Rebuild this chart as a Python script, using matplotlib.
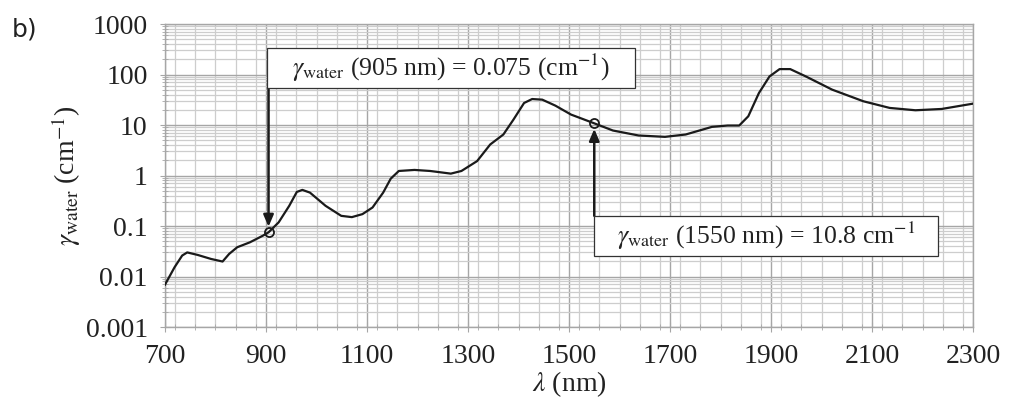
import matplotlib
matplotlib.use("Agg")
import matplotlib.pyplot as plt
from matplotlib.ticker import MultipleLocator, LogLocator, NullFormatter, FixedLocator
from matplotlib.patches import Rectangle

plt.rcParams['font.family'] = ['Liberation Serif', 'DejaVu Serif']
plt.rcParams['mathtext.fontset'] = 'stix'

# data
wavelength_nm = [700, 719, 734, 744, 765, 791, 814, 827, 843, 868, 894, 905, 925, 946,
                 961, 972, 987, 1018, 1049, 1070, 1091, 1111, 1132, 1147, 1163, 1194,
                 1225, 1266, 1287, 1318, 1344, 1370, 1390, 1411, 1427, 1447, 1473,
                 1504, 1550, 1587, 1638, 1690, 1731, 1783, 1814, 1837, 1855, 1876,
                 1897, 1917, 1938, 1969, 2021, 2083, 2135, 2186, 2238, 2300]
gamma_water = [0.0069, 0.0153, 0.026, 0.030, 0.0267, 0.0223, 0.0198, 0.028, 0.038,
               0.0475, 0.0645, 0.075, 0.118, 0.251, 0.473, 0.519, 0.459, 0.251, 0.159,
               0.150, 0.172, 0.233, 0.459, 0.867, 1.23, 1.29, 1.23, 1.09, 1.23, 1.93,
               4.12, 6.49, 12.8, 27.3, 32.7, 31.8, 24.2, 16.1, 10.8, 7.78, 6.2, 5.83,
               6.49, 9.19, 9.77, 9.77, 14.9, 42.9, 91.6, 128, 128, 91.6, 50.2, 29.5,
               21.8, 19.6, 20.8, 26.5]
marked_nm = [905, 1550]
marked_val = [0.075, 10.8]
x_ticks = [700, 900, 1100, 1300, 1500, 1700, 1900, 2100, 2300]
y_ticks = [0.001, 0.01, 0.1, 1, 10, 100, 1000]
y_ticklabels = ['0.001', '0.01', '0.1', '1', '10', '100', '1000']
note_texts = [r'$\gamma_{\mathrm{water}}$ (905 nm) = 0.075 (cm$^{-1}$)',
              r'$\gamma_{\mathrm{water}}$ (1550 nm) = 10.8 cm$^{-1}$']

fig = plt.figure(figsize=(10.16, 4.01), dpi=100)
ax = fig.add_axes([0.1624, 0.1845, 0.7953, 0.7556])
ax.set_yscale('log')
ax.set_xlim(700, 2300)
ax.set_ylim(0.001, 1000)

ax.xaxis.set_major_locator(FixedLocator(x_ticks))
ax.xaxis.set_minor_locator(MultipleLocator(40))
ax.yaxis.set_major_locator(FixedLocator(y_ticks))
ax.set_yticklabels(y_ticklabels)
ax.yaxis.set_minor_locator(LogLocator(base=10, subs=range(2, 10), numticks=20))
ax.yaxis.set_minor_formatter(NullFormatter())

ax.grid(which='major', color='#a6a6a6', lw=1.0)
ax.grid(which='minor', color='#cdcdcd', lw=0.9)
ax.set_axisbelow(True)
for s in ax.spines.values():
    s.set_color('#a6a6a6')
    s.set_linewidth(1.0)

ax.tick_params(which='major', direction='inout', length=7, color='#a6a6a6',
               labelsize=20, pad=9)
ax.tick_params(which='minor', direction='inout', length=4, color='#a6a6a6')
ax.tick_params(axis='both', labelcolor='#222222')

ax.plot(wavelength_nm, gamma_water, color='#1a1a1a', lw=1.6, zorder=3,
        solid_joinstyle='round')
ax.plot(marked_nm, marked_val, 'o', mfc='none', mec='#1a1a1a', ms=6.5, mew=1.3, zorder=4)

ax.set_xlabel(r'$\lambda$ (nm)', fontsize=20, labelpad=0, color='#222222')
ax.set_ylabel(r'$\gamma_{\mathrm{water}}$ (cm$^{-1}$)', fontsize=20, labelpad=2,
              color='#222222')

# annotation boxes (x0, x1 in nm; y0, y1 in data units)
boxes = [(901.5, 1630, 54, 331), (1550, 2231, 0.0252, 0.159)]
for (x0, x1, y0, y1), txt in zip(boxes, note_texts):
    ax.add_patch(Rectangle((x0, y0), x1 - x0, y1 - y0, fc='white', ec='#333333',
                           lw=0.9, zorder=6))
    ax.text((x0 + x1) / 2, (y0 * y1) ** 0.5, txt, fontsize=18.5, ha='center',
            va='center', zorder=7, color='#222222')

arrow_kw = dict(arrowstyle='-|>,head_length=0.7,head_width=0.3', color='#1a1a1a',
                lw=1.8, shrinkA=0, shrinkB=4)
ax.annotate('', xy=(marked_nm[0], marked_val[0]), xytext=(marked_nm[0], boxes[0][2]),
            arrowprops=arrow_kw, zorder=5)
ax.annotate('', xy=(marked_nm[1], marked_val[1]), xytext=(marked_nm[1], boxes[1][3]),
            arrowprops=arrow_kw, zorder=5)

fig.text(0.012, 0.91, 'b)', fontsize=18, family='DejaVu Sans', color='#222222')

fig.savefig('out.png', dpi=100)
